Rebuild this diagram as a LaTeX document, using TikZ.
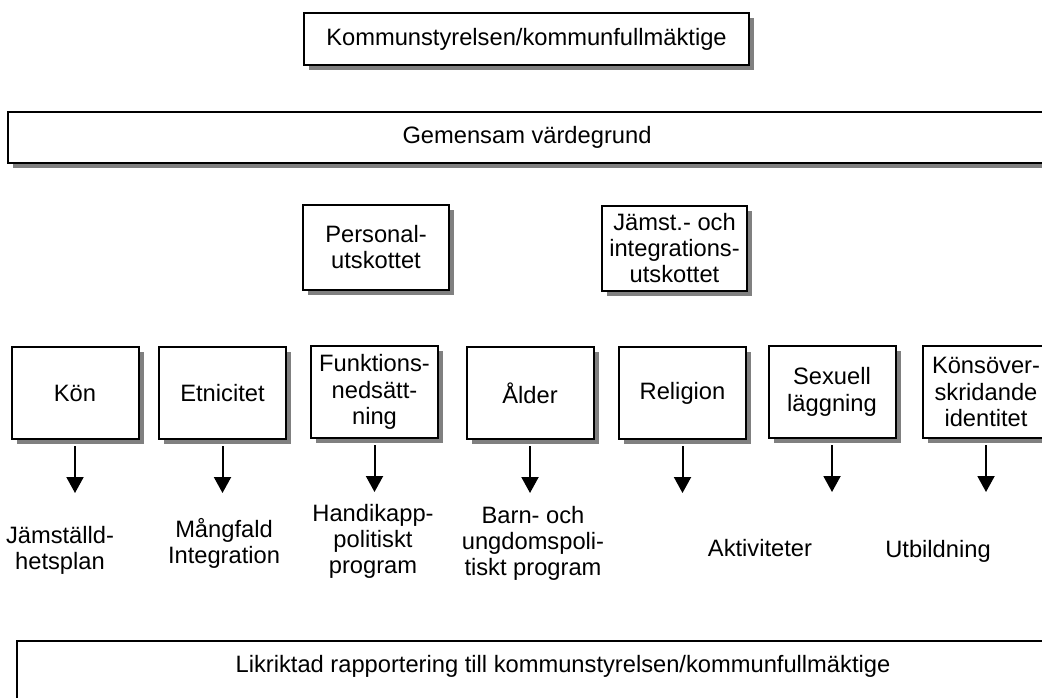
\documentclass[tikz,border=0pt]{standalone}
\usepackage{fontspec}
\setmainfont{Liberation Sans}
\usetikzlibrary{arrows.meta,shadows}
\begin{document}
\begin{tikzpicture}[x=0.5pt,y=-0.5pt,
  box/.style={draw=black, line width=1pt, fill=white, align=center, inner sep=0pt,
    font=\fontsize{11.85}{13.2}\selectfont,
    drop shadow={shadow xshift=2.5pt, shadow yshift=-2.5pt, fill=black!50, opacity=1}},
  rowbox/.style={box, minimum width=63.5pt, minimum height=46pt},
  lbl/.style={align=center, inner sep=0pt, font=\fontsize{11.85}{13}\selectfont},
  arr/.style={line width=1pt, -{Triangle[width=8.5pt,length=8pt]}}]
\useasboundingbox (0,0) rectangle (1042,697);
\clip (0,0) rectangle (1042,697);

\node[box, minimum width=222.5pt, minimum height=26pt] (ks) at (526.5,39) {Kommunstyrelsen/kommunfullmäktige};
\node[box, minimum width=519pt, minimum height=25.5pt] (vg) at (527,137.5) {Gemensam värdegrund};

\node[box, minimum width=73pt, minimum height=42.5pt] (pu) at (376,247) {Personal-\\utskottet};
\node[box, minimum width=72.5pt, minimum height=42.5pt] (ji) at (674.5,248) {Jämst.- och\\integrations-\\utskottet};

\node[rowbox] (kon) at (75,393) {Kön};
\node[rowbox] (etn) at (222.5,393) {Etnicitet};
\node[rowbox] (fun) at (374.5,392) {Funktions-\\nedsätt-\\ning};
\node[rowbox] (ald) at (530,393) {Ålder};
\node[rowbox] (rel) at (682.5,393) {Religion};
\node[rowbox] (sex) at (832,392) {Sexuell\\läggning};
\node[rowbox] (ksi) at (986,392) {Könsöver-\\skridande\\identitet};

\foreach \n in {kon,etn,fun,ald,rel,sex,ksi}
  \draw[arr] ([yshift=-3pt]\n.south) -- ++(0,47);

\node[lbl] (l1) at (60,550) {Jämställd-\\hetsplan};
\node[lbl] (l2) at (224,543) {Mångfald\\Integration};
\node[lbl] (l3) at (373,541) {Handikapp-\\politiskt\\program};
\node[lbl] (l4) at (533,543) {Barn- och\\ungdomspoli-\\tiskt program};
\node[lbl] (l5) at (760,548) {Aktiviteter};
\node[lbl] (l6) at (938,551) {Utbildning};

\node[box, anchor=north west, minimum width=546pt, text height=15.75pt, text depth=40pt] (rap) at (16,640) {Likriktad rapportering till kommunstyrelsen/kommunfullmäktige};
\end{tikzpicture}
\end{document}
